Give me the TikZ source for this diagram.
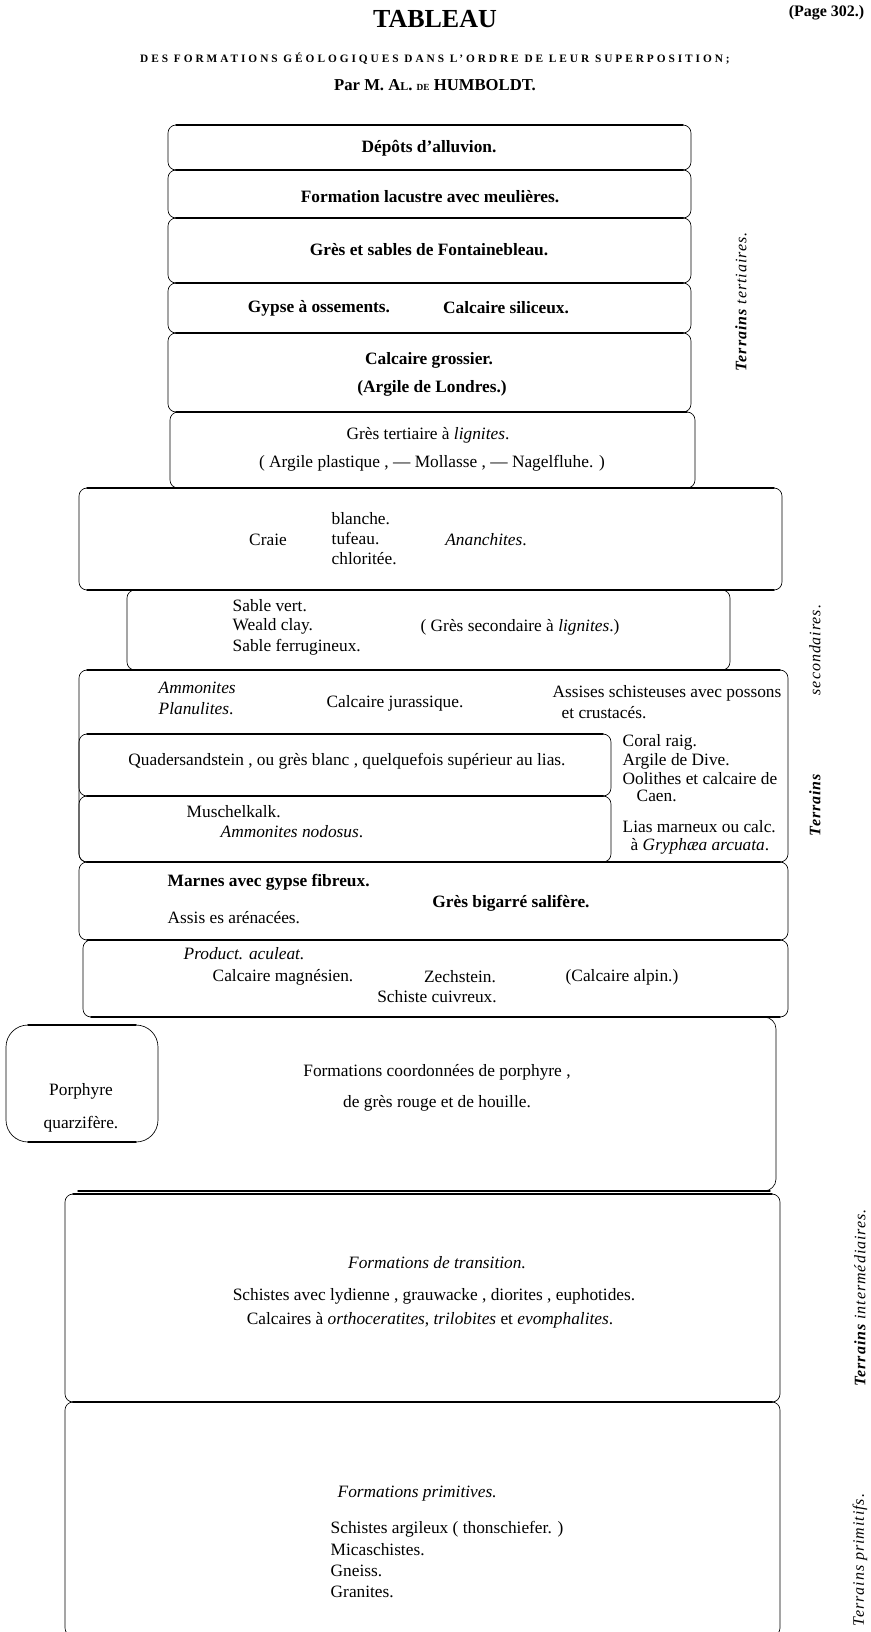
\documentclass[tikz,border=0pt]{standalone}
\usepackage{fontspec}
\setmainfont{Liberation Serif}
\begin{document}
\begin{tikzpicture}[x=0.75pt, y=-0.75pt, line join=round, line cap=round, font=\fontsize{13}{15}\selectfont]
    \useasboundingbox (0,0) rectangle (871,1632);
    \clip (0,0) rectangle (871,1632);
    % ============= COUCHE : x1, y1, x2, y2, rayon
    \newcommand{\layer}[5]{
    \draw[line width=0.5pt, rounded corners=#5*0.75pt] (#1,#2) rectangle (#3,#4);
    \draw[line width=1.1pt] (#1+#5,#2) -- (#3-#5,#2) (#1+#5,#4) -- (#3-#5,#4);
    }
    \layer{168}{125}{691}{170}{8}
    \layer{168}{170}{691}{218}{8}
    \layer{168}{218}{691}{283}{8}
    \layer{168}{283}{691}{333}{8}
    \layer{168}{333}{691}{412}{8}
    \layer{170}{412}{695}{488}{8}
    \layer{79}{488}{782}{590}{8}
    \layer{127}{590}{730}{670}{8}
    \layer{79}{670}{788}{862}{8}
    \layer{79}{734}{611}{796}{8}
    \layer{79}{796}{611}{862}{8}
    \layer{79}{862}{788}{940}{8}
    \layer{83}{940}{788}{1017}{8}
    \layer{6}{1025}{158}{1142}{22}
    \layer{65}{1194}{780}{1402}{8}
    \layer{65}{1402}{780}{1636}{8}
    % ============= PORPHYRE (bord droit)
    \draw[line width=0.5pt, rounded corners=9pt] (750,1017) -- (776,1017) -- (776,1191) -- (750,1191);
    \draw[line width=1.1pt] (78,1191) -- (770,1191);
    % ============= EN-TETE
    \node (title) at (435,19) {\fontsize{19.5}{22}\selectfont\bfseries TABLEAU};
    \node (sub) at (435,59) {\fontsize{8.5}{10}\selectfont\bfseries\addfontfeature{LetterSpace=26}DES FORMATIONS GÉOLOGIQUES DANS L'ORDRE DE LEUR SUPERPOSITION;};
    \node (auth) at (435,85) {\fontsize{12.5}{14}\selectfont\bfseries Par M. A{\small L}. {\scriptsize DE} HUMBOLDT.};
    \node[anchor=east] (page) at (869,13) {\fontsize{12}{14}\selectfont\bfseries (Page 302.)};
    %---
    \foreach \d/\n/\t in {(429,148)/dep/{\bfseries Dépôts d'alluvion.},
        (430,197)/lac/{\bfseries Formation lacustre avec meulières.},
        (429,250)/fon/{\bfseries Grès et sables de Fontainebleau.},
        (319,308)/gyp/{\bfseries Gypse à ossements.},
        (506,308)/sil/{\bfseries Calcaire siliceux.},
        (429,360)/gro/{\bfseries Calcaire grossier.},
        (432,388)/lon/{\bfseries (Argile de Londres.)},
        (428,435)/lig/{Grès tertiaire à \textit{lignites}.},
        (432,463)/pla/{( Argile plastique , — Mollasse , — Nagelfluhe. )},
        (268,540)/cra/{Craie},
        (486,540)/ana/{\textit{Ananchites}.},
        (520,627)/sec/{( Grès secondaire à \textit{lignites}.)},
        (395,703)/jur/{Calcaire jurassique.},
        (667,693)/ass/{Assises schisteuses avec possons},
        (604,713)/cru/{et crustacés.},
        (347,761)/qua/{Quadersandstein , ou grès blanc , quelquefois supérieur au lias.},
        (511,903)/big/{\bfseries Grès bigarré salifère.},
        (460,977)/zec/{Zechstein.},
        (622,977)/alp/{(Calcaire alpin.)},
        (437,997)/cui/{Schiste cuivreux.},
        (81,1091)/por/{Porphyre},
        (81,1124)/qrz/{quarzifère.},
        (437,1072)/coo/{Formations coordonnées de porphyre ,},
        (437,1103)/rou/{de grès rouge et de houille.},
        (437,1263)/tra/{\textit{Formations de transition.}},
        (434,1296)/lyd/{Schistes avec lydienne , grauwacke , diorites , euphotides.},
        (430,1320)/ort/{Calcaires à \textit{orthoceratites}, \textit{trilobites} et \textit{evomphalites}.}}
        {\node (\n) at \d {\t};}
    \foreach \d/\n/\t in {(327,519)/bla/{blanche.}, (327,539)/tuf/{tufeau.}, (327,559)/chl/{chloritée.},
        (228,606)/sab/{Sable vert.}, (228,626)/wea/{Weald clay.}, (228,647)/fer/{Sable ferrugineux.},
        (154,688)/amm/{\textit{Ammonites}}, (154,709)/pln/{\textit{Planulites}.},
        (182,812)/mus/{Muschelkalk.}, (216,832)/nod/{\textit{Ammonites nodosus}.},
        (618,742)/cor/{Coral raig.}, (618,761)/div/{Argile de Dive.},
        (618,779)/ool/{Oolithes et calcaire de}, (632,796)/cae/{Caen.},
        (618,827)/lia/{Lias marneux ou calc.}, (626,846)/gry/{à \textit{Gryphæa arcuata}.},
        (163,882)/mar/{\bfseries Marnes avec gypse fibreux.}, (163,918)/are/{Assis es arénacées.},
        (179,954)/pro/{\textit{Product. aculeat.}}, (208,977)/mag/{Calcaire magnésien.},
        (333,1494)/pri/{\textit{Formations primitives.}},
        (326,1529)/arg/{Schistes argileux ( thonschiefer. )}, (326,1550)/mic/{Micaschistes.},
        (326,1571)/gne/{Gneiss.}, (326,1592)/gra/{Granites.}}
        {\node[anchor=west] (\n) at \d {\t};}
    % ============= TERRAINS
    \foreach \d/\n/\t in {(741,302)/ter/{\textbf{Terrains} tertiaires.}, (815,650)/sco/{secondaires.},
        (815,805)/trs/{\textbf{Terrains}}, (860,1298)/int/{\textbf{Terrains} intermédiaires.},
        (860,1560)/prm/{Terrains primitifs.}}
        {\node[rotate=90, font=\fontsize{12}{14}\selectfont\itshape\addfontfeature{LetterSpace=6}] (\n) at \d {\t};}
\end{tikzpicture}
\end{document}
